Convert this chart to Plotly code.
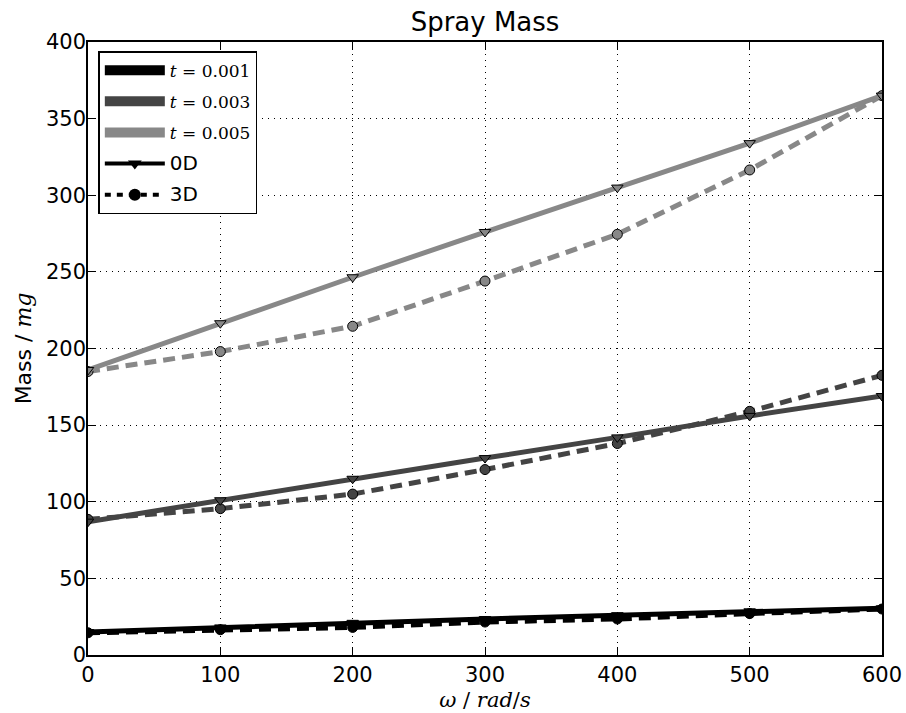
import plotly.graph_objects as go

omega = [0, 100, 200, 300, 400, 500, 600]
labels = ["t=0.001", "t=0.003", "t=0.005"]
colors = ["#000000", "#444444", "#888888"]

mass_0d = [
    [15, 18, 21, 23.5, 26, 28.5, 30.5],
    [87, 101, 115, 128.5, 142, 156, 169],
    [186, 216.5, 246.5, 276, 305, 334, 365],
]
mass_3d = [
    [14.5, 16.5, 18, 21.5, 23.5, 27, 30],
    [88.5, 95.5, 105, 121, 138, 159, 182.5],
    [185, 198, 214.5, 244, 274.5, 316.5, 365],
]

fig = go.Figure()
for i in range(3):
    fig.add_trace(go.Scatter(
        x=omega, y=mass_3d[i], mode="lines+markers", showlegend=False,
        line=dict(color=colors[i], width=5, dash="12px,7px"),
        marker=dict(symbol="circle", size=10, color=colors[i], line=dict(color="black", width=1)),
    ))
    fig.add_trace(go.Scatter(
        x=omega, y=mass_0d[i], mode="lines+markers", showlegend=False,
        line=dict(color=colors[i], width=5),
        marker=dict(symbol="triangle-down", size=10, color=colors[i], line=dict(color="black", width=1)),
    ))

# legend entries
for i in range(3):
    t, v = labels[i].split("=")
    fig.add_trace(go.Scatter(
        x=[None], y=[None], mode="lines", name="<i>%s</i> = %s" % (t, v),
        line=dict(color=colors[i], width=14),
        legendgroup="g%d" % i,
    ))
fig.add_trace(go.Scatter(
    x=[None], y=[None], mode="lines+markers",
    name='<span style="font-family:DejaVu Sans;font-size:20px">0D</span>',
    line=dict(color="black", width=4),
    marker=dict(symbol="triangle-down", size=12, color="black"),
    legendgroup="g3",
))
fig.add_trace(go.Scatter(
    x=[None], y=[None], mode="lines+markers",
    name='<span style="font-family:DejaVu Sans;font-size:20px">3D</span>',
    line=dict(color="black", width=4, dash="6px,6px"),
    marker=dict(symbol="circle", size=12, color="black"),
    legendgroup="g4",
))

axis_common = dict(
    showline=True, linecolor="black", linewidth=1.5, mirror="ticks",
    ticks="inside", ticklen=8, tickcolor="black", tickwidth=1,
    showgrid=True, gridcolor="black", gridwidth=1, griddash="1px,5px",
    zeroline=False, automargin=False,
    tickfont=dict(size=21, color="black", family="DejaVu Sans"),
)

fig.update_layout(
    width=906, height=713,
    margin=dict(l=88, r=24, t=42, b=58),
    paper_bgcolor="white", plot_bgcolor="white",
    title=dict(text="Spray Mass", xref="paper", x=0.5, xanchor="center",
               yref="container", y=0.969, yanchor="middle",
               font=dict(size=26, color="black", family="DejaVu Sans")),
    xaxis=dict(range=[0, 600], dtick=100, **axis_common,
               title=dict(text="<i>ω</i> / <i>rad</i>/<i>s</i>", standoff=6,
                          font=dict(size=21, color="black", family="DejaVu Serif"))),
    yaxis=dict(range=[0, 400], dtick=50, ticklabelstandoff=-4, **axis_common,
               title=dict(text="Mass / <i style='font-family:DejaVu Serif'>mg</i>", standoff=8,
                          font=dict(size=22, color="black", family="DejaVu Sans"))),
    legend=dict(x=0.013, y=0.985, xanchor="left", yanchor="top",
                bgcolor="white", bordercolor="black", borderwidth=1.5,
                font=dict(size=17, color="black", family="DejaVu Serif"),
                tracegroupgap=6, itemwidth=60),
)

fig.write_html("out.html", config={"displayModeBar": False},
               post_script="document.body.style.margin='0';document.body.style.padding='0';")
